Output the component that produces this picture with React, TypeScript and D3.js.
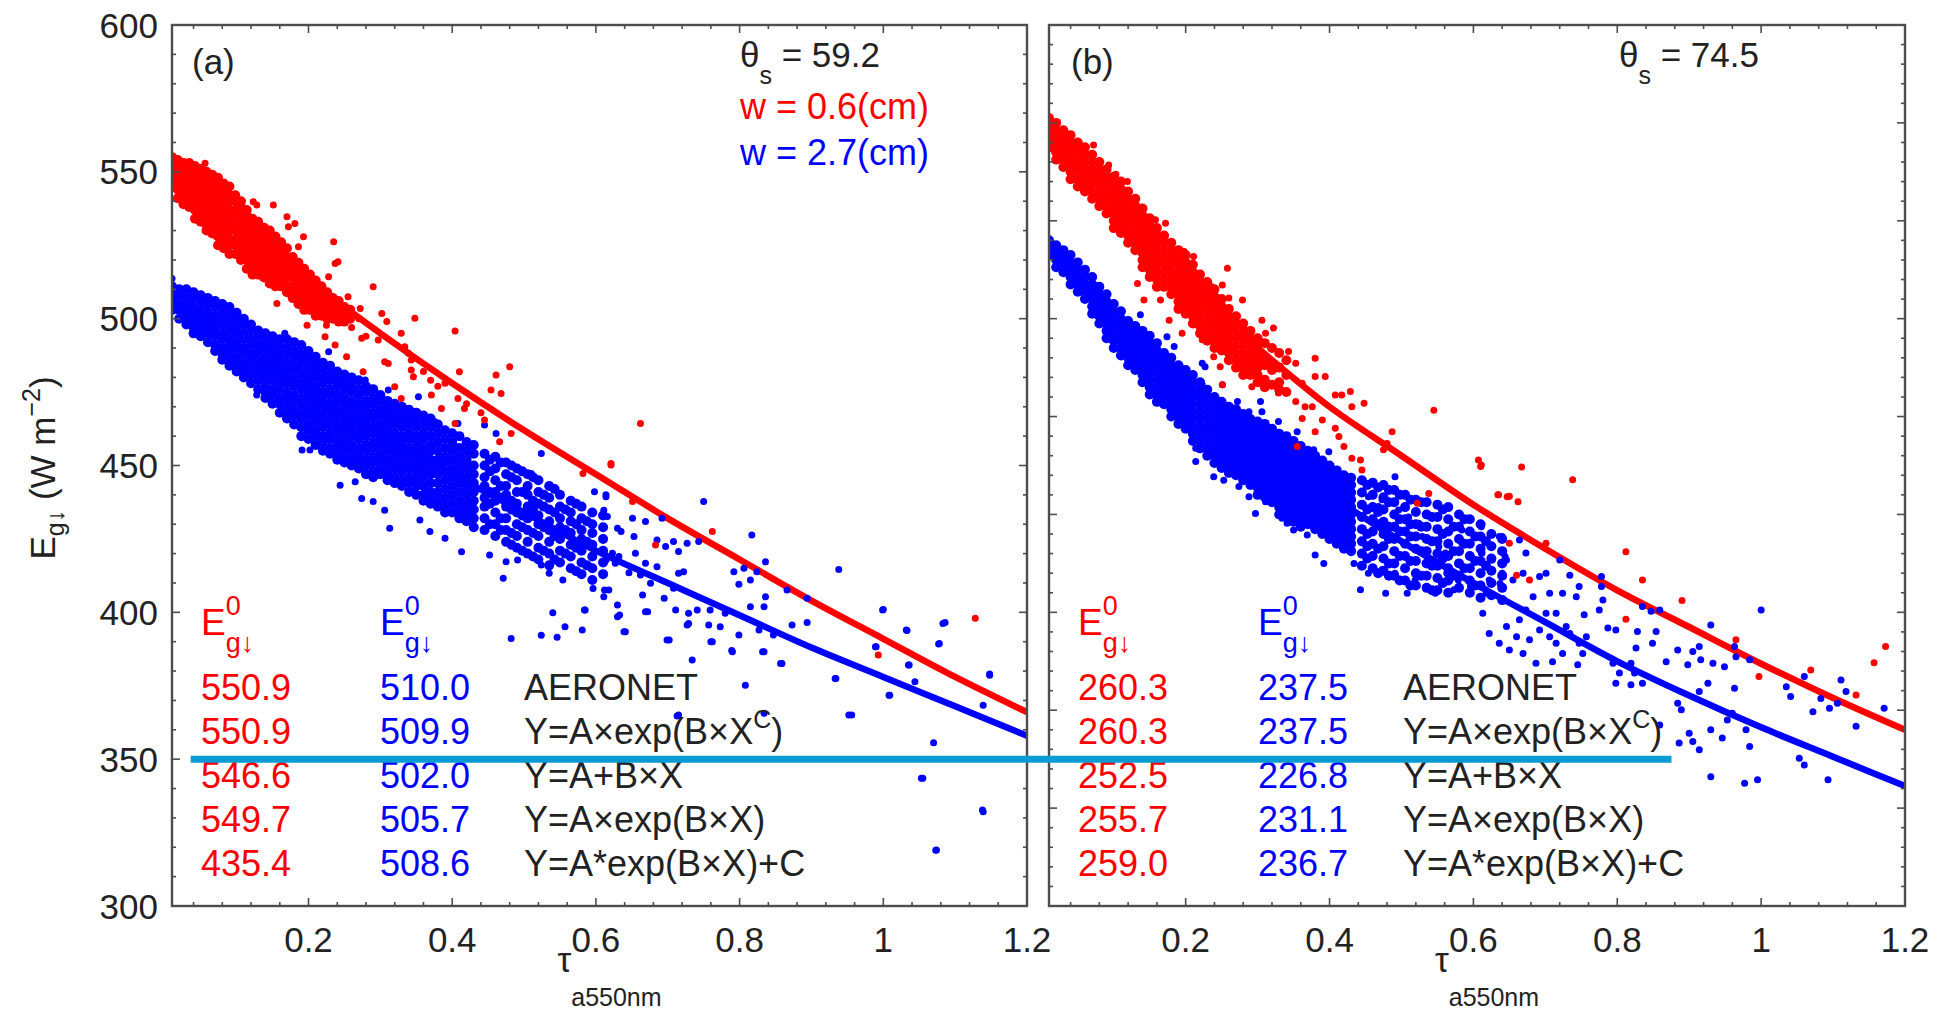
import React from "react";
import * as d3 from "d3";

type Col = number[]; // [x, y1, y2, ...]
type Pt = [number, number];

// ---------- fitted curves ----------
const fitX = [0.01, 0.1, 0.2, 0.3, 0.4, 0.5, 0.6, 0.7, 0.8, 0.9, 1.0, 1.1, 1.2];
const redFitA = [549, 531, 513, 495, 478, 462, 447, 432, 418, 404, 391, 378, 366];
const blueFitA = [507, 491, 475, 460, 447, 434, 421, 410, 399, 388, 378, 368, 358];
const redFitB = [258, 241, 226.5, 214, 202, 192, 182, 173, 164.5, 157, 149.5, 142.5, 136];
const blueFitB = [235, 219.5, 206.5, 194.5, 184, 174.5, 166, 158, 150, 143, 136.5, 130.5, 124.5];

// ---------- panel (a) scatter: dense columns [x, ys...] ----------
const redCoreA: Col[] = [
  [0.010, 555, 552, 550, 547, 545],
  [0.018, 554, 551, 549, 546, 544, 541],
  [0.026, 553, 551, 548, 546, 543, 541, 539],
  [0.034, 553, 550, 548, 545, 543, 540, 538],
  [0.042, 552, 549, 547, 544, 542, 539, 537, 534],
  [0.050, 551, 548, 546, 543, 541, 538, 536, 533],
  [0.058, 550, 547, 545, 542, 540, 537, 535, 532, 530],
  [0.066, 549, 546, 544, 541, 539, 536, 534, 531, 529],
  [0.074, 548, 545, 543, 540, 538, 535, 533, 530, 528, 525],
  [0.082, 546, 544, 541, 539, 536, 534, 531, 529, 526, 524],
  [0.090, 545, 542, 540, 537, 535, 532, 530, 527, 525, 522],
  [0.098, 542, 540, 537, 535, 532, 530, 527, 525, 522],
  [0.106, 540, 538, 535, 533, 530, 528, 525, 523, 520],
  [0.114, 537, 535, 532, 530, 527, 525, 522, 520, 517],
  [0.122, 534, 532, 529, 527, 524, 522, 519, 517, 515],
  [0.130, 533, 530, 528, 525, 523, 520, 518, 515],
  [0.138, 531, 529, 526, 524, 521, 519, 516, 514],
  [0.146, 530, 527, 525, 522, 520, 517, 515, 512],
  [0.154, 528, 525, 523, 520, 518, 515, 513, 511],
  [0.162, 526, 523, 521, 518, 516, 513, 511],
  [0.170, 524, 521, 519, 516, 514, 511, 509],
  [0.178, 521, 519, 516, 514, 511, 509, 507],
  [0.186, 519, 517, 514, 512, 509, 507, 505],
  [0.194, 517, 515, 512, 510, 507, 505, 503],
  [0.202, 515, 513, 510, 508, 505, 503],
  [0.210, 513, 511, 508, 506, 503, 501],
  [0.218, 511, 509, 506, 504, 501],
  [0.226, 509, 507, 504, 502, 500],
  [0.234, 507, 505, 502, 500],
  [0.242, 506, 503, 501, 499],
  [0.250, 504, 502, 499],
  [0.258, 503, 500],
];

const blueCoreA: Col[] = [
  [0.01, 511, 508, 506, 503],
  [0.02, 510, 508, 505, 503, 500],
  [0.03, 510, 507, 505, 502, 500, 498],
  [0.04, 509, 507, 504, 502, 499, 497, 495],
  [0.05, 508, 506, 503, 501, 498, 496, 494],
  [0.06, 507, 505, 502, 500, 497, 495, 492],
  [0.07, 506, 504, 501, 499, 496, 494, 491, 489],
  [0.08, 505, 503, 500, 498, 495, 493, 490, 488, 486],
  [0.09, 504, 501, 499, 496, 494, 491, 489, 486, 484],
  [0.10, 502, 500, 497, 495, 492, 490, 487, 485, 482],
  [0.11, 500, 498, 495, 493, 490, 488, 485, 483, 480],
  [0.12, 498, 496, 493, 491, 488, 486, 483, 481, 478],
  [0.13, 496, 494, 491, 489, 486, 484, 481, 479, 476],
  [0.14, 495, 492, 490, 487, 485, 482, 480, 477, 475, 473],
  [0.15, 494, 491, 489, 486, 484, 481, 479, 476, 474, 471],
  [0.16, 493, 491, 488, 486, 483, 481, 478, 476, 473, 471, 468],
  [0.17, 493, 490, 488, 485, 483, 480, 478, 475, 473, 470, 468, 466],
  [0.18, 492, 489, 487, 484, 482, 479, 477, 474, 472, 469, 467, 464],
  [0.19, 491, 488, 486, 483, 481, 478, 476, 473, 471, 468, 466, 463, 460],
  [0.20, 489, 487, 484, 482, 479, 477, 474, 472, 469, 467, 464, 462, 459],
  [0.21, 487, 485, 482, 480, 477, 475, 472, 470, 467, 465, 462, 460, 457],
  [0.22, 485, 483, 480, 478, 475, 473, 470, 468, 465, 463, 460, 458, 455],
  [0.23, 484, 481, 479, 476, 474, 471, 469, 466, 464, 461, 459, 456, 454],
  [0.24, 482, 479, 477, 474, 472, 469, 467, 464, 462, 459, 457, 454, 452],
  [0.25, 481, 478, 476, 473, 471, 468, 466, 463, 461, 458, 456, 453, 451],
  [0.26, 480, 477, 475, 472, 470, 467, 465, 462, 460, 457, 455, 452, 450],
  [0.27, 479, 476, 474, 471, 469, 466, 464, 461, 459, 456, 454, 451, 449],
  [0.28, 477, 475, 472, 470, 467, 465, 462, 460, 457, 455, 452, 450, 447],
  [0.29, 476, 473, 471, 468, 466, 463, 461, 458, 456, 453, 451, 448, 446],
  [0.30, 474, 472, 469, 467, 464, 462, 459, 457, 454, 452, 449, 447],
  [0.31, 472, 470, 467, 465, 462, 460, 457, 455, 452, 450, 447, 445],
  [0.32, 471, 469, 466, 464, 461, 459, 456, 454, 451, 449, 446, 444],
  [0.33, 470, 468, 465, 463, 460, 458, 455, 453, 450, 448, 445, 443],
  [0.34, 469, 466, 464, 461, 459, 456, 454, 451, 449, 446, 444, 441],
  [0.35, 468, 465, 463, 460, 458, 455, 453, 450, 448, 445, 443, 440],
  [0.36, 467, 464, 461, 459, 456, 454, 451, 448, 446, 443, 440, 438],
  [0.37, 466, 463, 460, 457, 455, 452, 449, 447, 444, 441, 439, 437],
  [0.38, 464, 461, 458, 455, 452, 450, 447, 444, 441, 438, 436],
  [0.39, 462, 459, 456, 453, 451, 448, 445, 442, 439, 436, 434],
  [0.40, 461, 458, 455, 452, 449, 446, 443, 440, 437, 434],
  [0.41, 460, 456, 453, 450, 447, 444, 441, 438, 435, 432],
  [0.42, 458, 455, 452, 449, 446, 443, 440, 437, 434, 431],
  [0.43, 457, 454, 450, 447, 444, 441, 438, 435, 432, 429],
  [0.445, 454, 450, 446, 443, 439, 436, 432, 428],
  [0.4525, 452, 448, 441, 437, 430],
  [0.46, 453, 449, 445, 441, 438, 434, 430, 426],
  [0.4675, 451, 443, 439, 432, 428],
  [0.475, 451, 447, 443, 440, 436, 432, 428, 424],
  [0.4825, 450, 446, 438, 435, 427, 423],
  [0.49, 449, 445, 441, 437, 434, 430, 426, 422],
  [0.4975, 448, 441, 433, 429, 421],
  [0.505, 447, 443, 440, 436, 432, 428, 424, 420],
  [0.5125, 446, 438, 435, 427, 419],
  [0.52, 445, 441, 437, 433, 430, 426, 422, 418],
  [0.5275, 440, 436, 429, 421],
  [0.535, 443, 439, 435, 431, 428, 424, 420, 416],
  [0.5425, 442, 434, 426, 418],
  [0.55, 440, 436, 432, 429, 425, 421, 417],
  [0.5575, 435, 428, 420],
  [0.565, 438, 434, 431, 427, 423, 419, 415],
  [0.5725, 437, 430, 422, 414],
  [0.58, 436, 432, 428, 425, 421, 417, 413],
  [0.5875, 431, 424, 416],
  [0.595, 434, 430, 427, 423, 419, 415, 411],
  [0.61, 433, 429, 425, 421, 417, 413],
];

const redPtsA: Pt[] = [
  [0.056, 552.9], [0.123, 539.8], [0.128, 538.7], [0.151, 538.7], [0.17, 534.7], [0.181, 532.4],
  [0.193, 527.9], [0.172, 531.3], [0.235, 526.2], [0.186, 524.5], [0.237, 518.8], [0.241, 519.4],
  [0.228, 514.3], [0.156, 505.2], [0.198, 497.8], [0.225, 497.8], [0.223, 493.8], [0.237, 491],
  [0.253, 487], [0.274, 493.3], [0.29, 510.9], [0.255, 507.5], [0.272, 503.5], [0.302, 501.8],
  [0.309, 499], [0.348, 500.1], [0.276, 481.9], [0.306, 485.3], [0.311, 484.7], [0.329, 495],
  [0.343, 485.9], [0.346, 480.2], [0.32, 476.8], [0.329, 472.8], [0.371, 474], [0.404, 495.8],
  [0.41, 481.9], [0.385, 469.4], [0.408, 472.8], [0.417, 469.4], [0.404, 464.3], [0.445, 465.5],
  [0.454, 475.7], [0.461, 480.8], [0.468, 474.5], [0.48, 483.6], [0.482, 460.9], [0.466, 458.1],
  [0.621, 450.7], [0.582, 447.3], [0.662, 464.3], [0.621, 450.2], [0.651, 437.7], [0.762, 427.5],
  [0.683, 422.9], [0.993, 385.5], [1.128, 398],
  [0.28, 494], [0.297, 492.7], [0.334, 490.4], [0.339, 488.2], [0.343, 482.5], [0.36, 482],
  [0.37, 479], [0.38, 477], [0.39, 478], [0.42, 471], [0.44, 468], [0.26, 497], [0.27, 500],
];

const bluePtsA: Pt[] = [
  [0.01, 513.7], [0.228, 488.7], [0.167, 495], [0.279, 479.1], [0.311, 475.7], [0.353, 473.4],
  [0.376, 464.9], [0.408, 464.3], [0.445, 463.8], [0.461, 460.9], [0.524, 454.1], [0.598, 441.1],
  [0.614, 440], [0.51, 447.3],
  [0.128, 474], [0.165, 467.7], [0.191, 455.3], [0.202, 455.3], [0.244, 443.3], [0.265, 444.5],
  [0.274, 438.8], [0.29, 437.7], [0.306, 434.8], [0.313, 428.6], [0.355, 431.4], [0.369, 427.5],
  [0.39, 425.2], [0.413, 420.6], [0.452, 419.5], [0.471, 411.6], [0.475, 417.2], [0.491, 417.8],
  [0.524, 416.1], [0.535, 413.3], [0.554, 411], [0.584, 400.8], [0.596, 408.1], [0.612, 407.6],
  [0.63, 402.5], [0.633, 399.1],
  [0.75, 437.7], [0.817, 426.3], [0.938, 414.6], [1.0, 401], [1.033, 393.8], [1.086, 396.5],
  [1.077, 389.2], [1.035, 382.1], [0.989, 388.3], [1.044, 376.4], [1.009, 371.8], [1.148, 379],
  [1.139, 368.4], [0.956, 365], [1.07, 355.6], [1.053, 343.5], [1.139, 332.1], [1.074, 319.1],
  [0.933, 377.5], [0.808, 375.2], [0.857, 382.6], [0.834, 386.6], [0.789, 387], [0.799, 392.3],
  [0.76, 390], [0.734, 383.8], [0.702, 390.6], [0.713, 364.7], [0.834, 365.6], [0.873, 395.7],
  [0.894, 396.5], [0.847, 392.3], [0.827, 394], [0.773, 395.1], [0.757, 395.7], [0.727, 395.7],
  [0.711, 400.8], [0.729, 399.7], [0.741, 400.8], [0.759, 400.8], [0.78, 399.7], [0.815, 401.9],
  [0.834, 401.9], [0.836, 405.3], [0.792, 413.8], [0.799, 409.6], [0.806, 415], [0.815, 411],
  [0.824, 413.8], [0.836, 417.2], [0.866, 407.6], [0.894, 404.8], [0.672, 400.2], [0.63, 398.5],
  [0.639, 393.4], [0.699, 390.6], [0.611, 405.3], [0.618, 407.6], [0.665, 405.9], [0.676, 409.9],
  [0.662, 412.7], [0.695, 404.8], [0.715, 413.3], [0.722, 413.8], [0.708, 408.2], [0.646, 413.5],
  [0.655, 420.1], [0.614, 417.8], [0.627, 416.7], [0.669, 416.7], [0.685, 415.5], [0.715, 420.7],
  [0.697, 422.4], [0.685, 424.6], [0.708, 424.1], [0.727, 423.5], [0.743, 424.1], [0.653, 425.8],
  [0.623, 420.1], [0.632, 419], [0.651, 432], [0.669, 430.9], [0.692, 432], [0.611, 434.8],
  [0.614, 439.4], [0.616, 432.6], [0.63, 428.6], [0.635, 427.5],
  [0.482, 391.1], [0.524, 392.2], [0.546, 391.5], [0.557, 395.1], [0.585, 400.8], [0.54, 399.9],
  [0.581, 394], [0.641, 393.4], [0.669, 400.2], [0.715, 365], [0.952, 365], [0.934, 377.5],
  [1.008, 371.8], [1.055, 343.5], [1.073, 319], [1.138, 332.7], [1.148, 378.6], [1.078, 389.4],
  [1.083, 396.2], [1.032, 394], [0.999, 400.8], [0.99, 388.3], [1.036, 382.1], [0.832, 386.6],
  [0.859, 382.6], [0.79, 386.6], [0.762, 390], [0.729, 396.2],
];

// ---------- panel (b) scatter ----------
const redCoreB: Col[] = [
  [0.01, 261, 259.5, 258, 256.5, 255],
  [0.02, 260, 258.5, 257, 255.5, 254, 252.5],
  [0.03, 258.5, 257, 255.5, 254, 252.5, 251],
  [0.04, 257.5, 256, 254.5, 253, 251.5, 250, 248.5],
  [0.05, 256, 254.5, 253, 251.5, 250, 248.5, 247],
  [0.06, 255, 253.5, 252, 250.5, 249, 247.5, 246],
  [0.07, 253.5, 252, 250.5, 249, 247.5, 246, 244.5],
  [0.08, 252, 250.5, 249, 247.5, 246, 244.5, 243],
  [0.09, 250.5, 249, 247.5, 246, 244.5, 243, 241.5],
  [0.10, 249, 247.5, 246, 244.5, 243, 241.5, 240, 238.5],
  [0.11, 248, 246.5, 245, 243.5, 242, 240.5, 239, 237.5],
  [0.12, 246, 244.5, 243, 241.5, 240, 238.5, 237, 235.5],
  [0.13, 244.5, 243, 241.5, 240, 238.5, 237, 235.5, 234],
  [0.14, 242.5, 241, 239.5, 238, 236.5, 235, 233.5, 232, 230.5],
  [0.15, 240.5, 239, 237.5, 236, 234.5, 233, 231.5, 230, 228.5],
  [0.16, 238.5, 237, 235.5, 234, 232.5, 231, 229.5, 228, 226.5],
  [0.17, 237, 235.5, 234, 232.5, 231, 229.5, 228, 226.5],
  [0.18, 235.5, 234, 232.5, 231, 229.5, 228, 226.5, 225],
  [0.19, 234, 232.5, 231, 229.5, 228, 226.5, 225, 223.5, 222],
  [0.20, 233, 231.5, 230, 228.5, 227, 225.5, 224, 222.5, 221],
  [0.21, 231, 229.5, 228, 226.5, 225, 223.5, 222, 220.5, 219],
  [0.22, 229, 227.5, 226, 224.5, 223, 221.5, 220, 218.5, 217],
  [0.23, 227.5, 226, 224.5, 223, 221.5, 220, 218.5, 217, 215.5],
  [0.24, 226, 224.5, 223, 221.5, 220, 218.5, 217, 215.5, 214],
  [0.25, 224, 222.5, 221, 219.5, 218, 216.5, 215, 213.5],
  [0.26, 222, 220.5, 219, 217.5, 216, 214.5, 213, 211.5],
  [0.27, 220.5, 219, 217.5, 216, 214.5, 213, 211.5, 210],
  [0.28, 219, 217.5, 216, 214.5, 213, 211.5, 210, 208.5],
  [0.29, 217.5, 216, 214.5, 213, 211.5, 210, 208.5],
  [0.30, 216, 214.5, 213, 211.5, 210, 208.5, 207],
  [0.31, 215, 212, 210.5, 207.5, 206],
  [0.32, 214, 211, 209.5, 206.5],
  [0.33, 213, 210, 207, 205.5],
  [0.34, 211.5, 208.5, 205],
];

const blueCoreB: Col[] = [
  [0.01, 236, 234.5, 233],
  [0.02, 235, 233.5, 232, 230.5],
  [0.03, 234, 232.5, 231, 229.5],
  [0.04, 233, 231.5, 230, 228.5, 227],
  [0.05, 231.5, 230, 228.5, 227, 225.5],
  [0.06, 230, 228.5, 227, 225.5, 224],
  [0.07, 228.5, 227, 225.5, 224, 222.5, 221],
  [0.08, 226.5, 225, 223.5, 222, 220.5, 219],
  [0.09, 225, 223.5, 222, 220.5, 219, 217.5, 216],
  [0.10, 223, 221.5, 220, 218.5, 217, 215.5, 214],
  [0.11, 221.5, 220, 218.5, 217, 215.5, 214, 212.5],
  [0.12, 219.5, 218, 216.5, 215, 213.5, 212, 210.5],
  [0.13, 218.5, 217, 215.5, 214, 212.5, 211, 209.5],
  [0.14, 217.5, 216, 214.5, 213, 211.5, 210, 208.5, 207],
  [0.15, 216.5, 215, 213.5, 212, 210.5, 209, 207.5, 206, 204.5],
  [0.16, 215, 213.5, 212, 210.5, 209, 207.5, 206, 204.5, 203],
  [0.17, 213, 211.5, 210, 208.5, 207, 205.5, 204, 202.5],
  [0.18, 212, 210.5, 209, 207.5, 206, 204.5, 203, 201.5, 200],
  [0.19, 210.5, 209, 207.5, 206, 204.5, 203, 201.5, 200, 198.5],
  [0.20, 209.5, 208, 206.5, 205, 203.5, 202, 200.5, 199, 197.5],
  [0.21, 208.5, 207, 205.5, 204, 202.5, 201, 199.5, 198, 196.5, 195],
  [0.22, 207, 205.5, 204, 202.5, 201, 199.5, 198, 196.5, 195, 193.5],
  [0.23, 205.5, 204, 202.5, 201, 199.5, 198, 196.5, 195, 193.5, 192],
  [0.24, 204, 202.5, 201, 199.5, 198, 196.5, 195, 193.5, 192, 190.5],
  [0.25, 203, 201.5, 200, 198.5, 197, 195.5, 194, 192.5, 191, 189.5],
  [0.26, 202, 200.5, 199, 197.5, 196, 194.5, 193, 191.5, 190, 188.5],
  [0.27, 201.5, 200, 198.5, 197, 195.5, 194, 192.5, 191, 189.5, 188],
  [0.28, 200.5, 199, 197.5, 196, 194.5, 193, 191.5, 190, 188.5, 187],
  [0.29, 199.5, 198, 196.5, 195, 193.5, 192, 190.5, 189, 187.5, 186],
  [0.30, 199, 197.5, 196, 194.5, 193, 191.5, 190, 188.5, 187, 185.5, 184],
  [0.31, 198.5, 197, 195.5, 194, 192.5, 191, 189.5, 188, 186.5, 185, 183.5],
  [0.32, 197.5, 196, 194.5, 193, 191.5, 190, 188.5, 187, 185.5, 184, 182.5],
  [0.33, 196.5, 195, 193.5, 192, 190.5, 189, 187.5, 186, 184.5, 183, 181.5, 180],
  [0.34, 196, 194.5, 193, 191.5, 190, 188.5, 187, 185.5, 184, 182.5, 181, 179.5],
  [0.35, 195, 193.5, 192, 190.5, 189, 187.5, 186, 184.5, 183, 181.5, 180, 178.5],
  [0.36, 194, 192.5, 191, 189.5, 188, 186.5, 185, 183.5, 182, 180.5, 179, 177.5],
  [0.37, 193, 191.5, 190, 188.5, 187, 185.5, 184, 182.5, 181, 179.5, 178],
  [0.38, 192, 190.5, 189, 187.5, 186, 184.5, 183, 181.5, 180, 178.5, 177],
  [0.39, 191, 189.5, 188, 186.5, 185, 183.5, 182, 180.5, 179, 177.5, 176],
  [0.40, 190, 188.5, 187, 185.5, 184, 182.5, 181, 179.5, 178, 176.5, 175],
  [0.41, 189, 187.5, 186, 184.5, 183, 181.5, 180, 178.5, 177, 175.5, 174],
  [0.42, 188, 186.5, 185, 183.5, 182, 180.5, 179, 177.5, 176, 174.5, 173],
  [0.43, 187.5, 186, 184.5, 183, 181.5, 180, 178.5, 177, 175.5, 174, 172.5],
  [0.445, 187, 184.5, 182, 179.5, 177, 174.5, 172, 169.5],
  [0.4525, 186, 181, 176, 173.5, 171],
  [0.46, 186.5, 184, 181.5, 179, 176.5, 174, 171.5, 169],
  [0.4675, 185.5, 180.5, 178, 173, 168],
  [0.475, 186, 183.5, 181, 178.5, 176, 173.5, 171, 168.5],
  [0.4825, 185, 182.5, 177.5, 175, 170, 167.5],
  [0.49, 185, 182.5, 180, 177.5, 175, 172.5, 170, 167.5],
  [0.4975, 184, 179, 176.5, 171.5, 166.5],
  [0.505, 184, 181.5, 179, 176.5, 174, 171.5, 169, 166.5],
  [0.5125, 183, 178, 175.5, 170.5, 165.5],
  [0.52, 183, 180.5, 178, 175.5, 173, 170.5, 168, 165.5],
  [0.5275, 182.5, 177.5, 172.5, 167.5],
  [0.535, 182.5, 180, 177.5, 175, 172.5, 170, 167.5, 165],
  [0.5425, 179.5, 174.5, 169.5, 164.5],
  [0.55, 182, 179.5, 177, 174.5, 172, 169.5, 167, 164.5],
  [0.5575, 181, 176, 171, 166],
  [0.565, 181.5, 179, 176.5, 174, 171.5, 169, 166.5, 164],
  [0.5725, 177.5, 172.5, 167.5],
  [0.58, 180, 177.5, 175, 172.5, 170, 167.5, 165],
  [0.5875, 179, 174, 169],
  [0.595, 179, 176.5, 174, 171.5, 169, 166.5, 164],
  [0.6025, 175.5, 170.5, 165.5],
  [0.61, 178, 175.5, 173, 170.5, 168, 165.5, 163],
  [0.6175, 174.5, 169.5],
  [0.625, 176, 173.5, 171, 168.5, 166, 163.5],
  [0.64, 175, 172.5, 170, 167.5, 165, 162.5],
];

const redPtsB: Pt[] = [
  [0.072, 255.5], [0.093, 251.4], [0.103, 249.5], [0.119, 248], [0.107, 246.6], [0.13, 242.9],
  [0.158, 240.2], [0.172, 239.5], [0.17, 236.8], [0.198, 233.7], [0.211, 232.7], [0.214, 229.3],
  [0.258, 230.3], [0.133, 227.2], [0.142, 223.8], [0.165, 223.8], [0.177, 219.7], [0.195, 217],
  [0.209, 227.2], [0.235, 226.6], [0.251, 226.9], [0.26, 224.2], [0.279, 223.8], [0.239, 223.8],
  [0.223, 215.7], [0.239, 212.2], [0.248, 210.2], [0.251, 206.5], [0.262, 214], [0.276, 210.9],
  [0.29, 217.7], [0.306, 219.7], [0.311, 217], [0.322, 218.1], [0.302, 215], [0.292, 206.1],
  [0.306, 207.1], [0.318, 206.5], [0.329, 204.8], [0.343, 213.3], [0.353, 210.9], [0.38, 211.9],
  [0.394, 208.2], [0.38, 208.2], [0.362, 206.8], [0.353, 203.1], [0.366, 202], [0.362, 199.6],
  [0.376, 202], [0.408, 204.4], [0.417, 204.4], [0.429, 205.1], [0.431, 202], [0.448, 202.7],
  [0.39, 199.3], [0.38, 196.9], [0.408, 197.6], [0.413, 195.9], [0.42, 193.9], [0.431, 191.5],
  [0.443, 191.1], [0.445, 189.1], [0.487, 196.9], [0.48, 194.5], [0.475, 193.2], [0.545, 201.3],
  [0.538, 184.3], [0.522, 182.3], [0.607, 191.1], [0.61, 189.8], [0.635, 184], [0.647, 183.6],
  [0.355, 193.9],
  [0.611, 190.1], [0.667, 189.7], [0.738, 187.1], [0.634, 184], [0.65, 183.7], [0.662, 182.6],
  [0.812, 172.4], [0.835, 166.6], [0.89, 162.4], [0.812, 158.6], [0.701, 174.1], [0.65, 174.1],
  [0.678, 166.6], [0.66, 167.6], [0.965, 154.4], [0.997, 146.9], [1.069, 148.2], [1.132, 143.1],
  [1.157, 149.7], [1.173, 153],
];

const bluePtsB: Pt[] = [
  [0.137, 220.8], [0.174, 216.3], [0.184, 214.3], [0.223, 210.9], [0.227, 210.2], [0.223, 206.5],
  [0.251, 206.5], [0.272, 203.1], [0.288, 201], [0.304, 203.1], [0.306, 201], [0.329, 199],
  [0.355, 196.9], [0.378, 193.2], [0.399, 192.8],
  [0.214, 193.5], [0.214, 190.8], [0.239, 187.7], [0.253, 187], [0.274, 185.7], [0.288, 183.6],
  [0.297, 180.2], [0.311, 182.6], [0.334, 179.2], [0.341, 178.2], [0.35, 176.8], [0.369, 175.8],
  [0.38, 171.7], [0.392, 170], [0.406, 176.1], [0.434, 170], [0.443, 164.6], [0.454, 168],
  [0.473, 168.7], [0.478, 163.9], [0.491, 168], [0.508, 163.9], [0.519, 166.6], [0.533, 170],
  [0.547, 163.9], [0.563, 168], [0.573, 164.6], [0.579, 166.6], [0.584, 176.8], [0.584, 174.1],
  [0.612, 172.1], [0.626, 170.7], [0.64, 175.5], [0.644, 171.4], [0.64, 168], [0.637, 165.9],
  [0.617, 164.6], [0.596, 165.3], [0.491, 187.7], [0.473, 183], [0.496, 180.9], [0.51, 179.5],
  [0.524, 178.2], [0.542, 179.5], [0.529, 175.5], [0.552, 173.4], [0.561, 172.1], [0.454, 183.6],
  [0.468, 181.6],
  [0.611, 177.5], [0.611, 172.1], [0.622, 166.6], [0.618, 163.9], [0.613, 159.8], [0.622, 155.7],
  [0.636, 175.5], [0.646, 170.7], [0.664, 174.8], [0.673, 172.1], [0.669, 168], [0.655, 166.6],
  [0.692, 167.3], [0.701, 168], [0.734, 167.6], [0.72, 170.7], [0.706, 163.9], [0.724, 163.9],
  [0.743, 163.2], [0.747, 165.3], [0.683, 163.2], [0.673, 160.5], [0.664, 158.5], [0.646, 157.1],
  [0.636, 153.7], [0.65, 152.3], [0.669, 151.6], [0.687, 149.6], [0.71, 149.9], [0.724, 151.6],
  [0.706, 155], [0.692, 156.4], [0.715, 153.7], [0.734, 155.7], [0.747, 153.7], [0.757, 155],
  [0.752, 151.6], [0.745, 149.3], [0.715, 159.8], [0.729, 157.1], [0.701, 159.8], [0.678, 154.4],
  [0.66, 155], [0.754, 159.5], [0.778, 167.3], [0.778, 165.3], [0.78, 162.5], [0.775, 160.5],
  [0.787, 156.8], [0.798, 156.4], [0.794, 149.6], [0.803, 147.6], [0.819, 149.6], [0.824, 147.6],
  [0.798, 145.5], [0.819, 145.2], [0.835, 145.5], [0.826, 152.7], [0.828, 156.1], [0.849, 153.7],
  [0.854, 156.1], [0.835, 161.2], [0.847, 160.2], [0.859, 160.5], [0.868, 149.9], [0.884, 152.3],
  [0.898, 149.3], [0.905, 152], [0.914, 153], [0.916, 150.3], [0.933, 149.6], [0.949, 148.9],
  [0.93, 157.4], [0.963, 153], [0.965, 150.9], [0.984, 150.3], [1.0, 160.5], [0.963, 144.5],
  [0.926, 145.5], [0.914, 143.8], [0.884, 141.4], [0.889, 140.1], [0.9, 135.3], [0.905, 133.6],
  [0.886, 133.3], [0.914, 131.9], [0.93, 136], [0.946, 134.3], [0.953, 138], [0.96, 139.4],
  [0.979, 136], [0.984, 132.6], [0.859, 137], [0.93, 126.4], [0.977, 125.1], [0.995, 125.8],
  [1.053, 130.2], [1.06, 128.8], [1.093, 125.8], [1.035, 144.8], [1.041, 142.8], [1.06, 146.9],
  [1.072, 139.7], [1.083, 142.4], [1.095, 140.4], [1.106, 141.4], [1.111, 146.2], [1.118, 143.8],
  [1.132, 136.7], [1.171, 140.4],
];

// ---------- axes ----------
const xTickValues = [0.2, 0.4, 0.6, 0.8, 1.0, 1.2];
const xTickLabels = ["0.2", "0.4", "0.6", "0.8", "1", "1.2"];
const yTickValuesA = [300, 350, 400, 450, 500, 550, 600];
const yTickLabelsA = ["300", "350", "400", "450", "500", "550", "600"];

// ---------- annotation table ----------
const redValsA = ["550.9", "550.9", "546.6", "549.7", "435.4"];
const blueValsA = ["510.0", "509.9", "502.0", "505.7", "508.6"];
const redValsB = ["260.3", "260.3", "252.5", "255.7", "259.0"];
const blueValsB = ["237.5", "237.5", "226.8", "231.1", "236.7"];
const methods = ["AERONET", "Y=A×exp(B×X", "Y=A+B×X", "Y=A×exp(B×X)", "Y=A*exp(B×X)+C"];

// horizontal reference line (panel a data units)
const refLine = { y: 350, x0: 0.036, x1: 2.097 };

const FONT = '"Liberation Sans", Arial, Helvetica, sans-serif';
const RED = "#ff0000";
const BLUE = "#0000ff";
const INK = "#222222";
const AXIS = "#4d4d4d";

function expand(cols: Col[]): Pt[] {
  return cols.flatMap((c) => c.slice(1).map((v) => [c[0], v] as Pt));
}

interface PanelProps {
  id: string;
  left: number;
  right: number;
  top: number;
  bottom: number;
  yDomain: [number, number];
  yMajor: number[];
  yMinor: number[];
  redCore: Col[];
  blueCore: Col[];
  redPts: Pt[];
  bluePts: Pt[];
  redFit: number[];
  blueFit: number[];
}

function Panel(p: PanelProps) {
  const x = d3.scaleLinear().domain([0.01, 1.2]).range([p.left, p.right]);
  const y = d3.scaleLinear().domain(p.yDomain).range([p.bottom, p.top]);
  const line = d3
    .line<number>()
    .x((_, i) => x(fitX[i]))
    .y((v) => y(v))
    .curve(d3.curveMonotoneX);
  const redC = expand(p.redCore);
  const blueC = expand(p.blueCore);
  const xMinor = d3.range(0.04, 1.2001, 0.04).filter((v) => Math.abs(v / 0.2 - Math.round(v / 0.2)) > 1e-6);
  const rPt = 3.5;
  const rCore = 5.0;
  const MAJ = 8;
  const MIN = 4;
  return (
    <g>
      <defs>
        <clipPath id={`clip-${p.id}`}>
          <rect x={p.left} y={p.top} width={p.right - p.left} height={p.bottom - p.top} />
        </clipPath>
      </defs>
      <g clipPath={`url(#clip-${p.id})`}>
        <path d={line(p.redFit) || ""} fill="none" stroke={RED} strokeWidth={6.5} />
        {blueC.map((d, i) => (
          <circle key={"bc" + i} cx={x(d[0])} cy={y(d[1])} r={rCore} fill={BLUE} />
        ))}
        {p.bluePts.map((d, i) => (
          <circle key={"bp" + i} cx={x(d[0])} cy={y(d[1])} r={rPt} fill={BLUE} />
        ))}
        {redC.map((d, i) => (
          <circle key={"rc" + i} cx={x(d[0])} cy={y(d[1])} r={rCore} fill={RED} />
        ))}
        {p.redPts.map((d, i) => (
          <circle key={"rp" + i} cx={x(d[0])} cy={y(d[1])} r={rPt} fill={RED} />
        ))}
        <path d={line(p.blueFit) || ""} fill="none" stroke={BLUE} strokeWidth={6.5} />
      </g>
      <g stroke={AXIS} strokeWidth={1.6}>
        {xTickValues.map((v) => (
          <g key={"xM" + v}>
            <line x1={x(v)} x2={x(v)} y1={p.bottom} y2={p.bottom - MAJ} />
            <line x1={x(v)} x2={x(v)} y1={p.top} y2={p.top + MAJ} />
          </g>
        ))}
        {xMinor.map((v) => (
          <g key={"xm" + v}>
            <line x1={x(v)} x2={x(v)} y1={p.bottom} y2={p.bottom - MIN} />
            <line x1={x(v)} x2={x(v)} y1={p.top} y2={p.top + MIN} />
          </g>
        ))}
        {p.yMajor.map((v) => (
          <g key={"yM" + v}>
            <line x1={p.left} x2={p.left + MAJ} y1={y(v)} y2={y(v)} />
            <line x1={p.right} x2={p.right - MAJ} y1={y(v)} y2={y(v)} />
          </g>
        ))}
        {p.yMinor.map((v) => (
          <g key={"ym" + v}>
            <line x1={p.left} x2={p.left + MIN} y1={y(v)} y2={y(v)} />
            <line x1={p.right} x2={p.right - MIN} y1={y(v)} y2={y(v)} />
          </g>
        ))}
      </g>
      <rect
        x={p.left}
        y={p.top}
        width={p.right - p.left}
        height={p.bottom - p.top}
        fill="none"
        stroke={AXIS}
        strokeWidth={2.4}
      />
      <g fontFamily={FONT} fontSize={35} fill={INK} textAnchor="middle">
        {xTickValues.map((v, i) => (
          <text key={"xl" + v} x={x(v)} y={952}>
            {xTickLabels[i]}
          </text>
        ))}
        <text x={(p.left + p.right) / 2 + 10} y={972}>
          τ
          <tspan fontSize={25} dy={34}>
            a550nm
          </tspan>
        </text>
      </g>
    </g>
  );
}

function Table({
  xRed,
  xBlue,
  xText,
  reds,
  blues,
}: {
  xRed: number;
  xBlue: number;
  xText: number;
  reds: string[];
  blues: string[];
}) {
  const rowY = [700, 744, 788, 832, 876];
  const header = (xx: number, color: string) => (
    <text x={xx} y={635} fill={color} fontSize={37}>
      E
      <tspan fontSize={27} dy={-20}>
        0
      </tspan>
      <tspan fontSize={27} dx={-15} dy={37}>
        g↓
      </tspan>
    </text>
  );
  return (
    <g fontFamily={FONT} fontSize={36}>
      {header(xRed, RED)}
      {header(xBlue, BLUE)}
      {rowY.map((yy, i) => (
        <g key={i}>
          <text x={xRed} y={yy} fill={RED}>
            {reds[i]}
          </text>
          <text x={xBlue} y={yy} fill={BLUE}>
            {blues[i]}
          </text>
          <text x={xText} y={yy} fill={INK}>
            {methods[i]}
            {i === 1 ? (
              <>
                <tspan fontSize={25} dy={-16}>
                  C
                </tspan>
                <tspan dy={16}>)</tspan>
              </>
            ) : null}
          </text>
        </g>
      ))}
    </g>
  );
}

export default function App() {
  const TOP = 25;
  const BOTTOM = 906;
  const A = { left: 172, right: 1027 };
  const B = { left: 1049, right: 1905 };
  const xA = d3.scaleLinear().domain([0.01, 1.2]).range([A.left, A.right]);
  const yA = d3.scaleLinear().domain([300, 600]).range([BOTTOM, TOP]);
  const yMajorA = yTickValuesA;
  const yMinorA = d3.range(310, 600, 10).filter((v) => v % 50 !== 0);
  const yMajorB = d3.range(100, 281, 20);
  const yMinorB = d3.range(104, 280, 4).filter((v) => v % 20 !== 0);

  return (
    <svg
      width={1937}
      height={1015}
      viewBox="0 0 1937 1015"
      style={{ position: "absolute", left: 0, top: 0, display: "block", background: "#fff" }}
    >
      <rect x={0} y={0} width={1937} height={1015} fill="#fff" />
      <Panel
        id="a"
        left={A.left}
        right={A.right}
        top={TOP}
        bottom={BOTTOM}
        yDomain={[300, 600]}
        yMajor={yMajorA}
        yMinor={yMinorA}
        redCore={redCoreA}
        blueCore={blueCoreA}
        redPts={redPtsA}
        bluePts={bluePtsA}
        redFit={redFitA}
        blueFit={blueFitA}
      />
      <Panel
        id="b"
        left={B.left}
        right={B.right}
        top={TOP}
        bottom={BOTTOM}
        yDomain={[100, 280]}
        yMajor={yMajorB}
        yMinor={yMinorB}
        redCore={redCoreB}
        blueCore={blueCoreB}
        redPts={redPtsB}
        bluePts={bluePtsB}
        redFit={redFitB}
        blueFit={blueFitB}
      />
      {/* y tick labels panel a */}
      <g fontFamily={FONT} fontSize={35} fill={INK} textAnchor="end">
        {yTickValuesA.map((v, i) => (
          <text key={v} x={158} y={yA(v)} dy="0.36em">
            {yTickLabelsA[i]}
          </text>
        ))}
      </g>
      {/* y axis label */}
      <text
        transform="translate(55,468) rotate(-90)"
        fontFamily={FONT}
        fontSize={35}
        fill={INK}
        textAnchor="middle"
      >
        E
        <tspan fontSize={25} dy={9}>
          g↓
        </tspan>
        <tspan dy={-9}> (W m</tspan>
        <tspan fontSize={25} dy={-15}>
          −2
        </tspan>
        <tspan dy={15}>)</tspan>
      </text>
      {/* panel labels and conditions */}
      <g fontFamily={FONT} fontSize={35} fill={INK}>
        <text x={192} y={74}>(a)</text>
        <text x={1071} y={74}>(b)</text>
        <text x={740} y={67}>
          θ
          <tspan fontSize={25} dy={17}>
            s
          </tspan>
          <tspan dy={-17}> = 59.2</tspan>
        </text>
        <text x={1619} y={67}>
          θ
          <tspan fontSize={25} dy={17}>
            s
          </tspan>
          <tspan dy={-17}> = 74.5</tspan>
        </text>
        <text x={740} y={119} fill={RED} fontSize={36}>
          w = 0.6(cm)
        </text>
        <text x={740} y={165} fill={BLUE} fontSize={36}>
          w = 2.7(cm)
        </text>
      </g>
      <Table xRed={201} xBlue={380} xText={524} reds={redValsA} blues={blueValsA} />
      <Table xRed={1078} xBlue={1258} xText={1403} reds={redValsB} blues={blueValsB} />
      {/* cyan reference line */}
      <line
        x1={xA(refLine.x0)}
        x2={xA(refLine.x1)}
        y1={yA(refLine.y)}
        y2={yA(refLine.y)}
        stroke="#0a9bd4"
        strokeWidth={7}
      />
    </svg>
  );
}
